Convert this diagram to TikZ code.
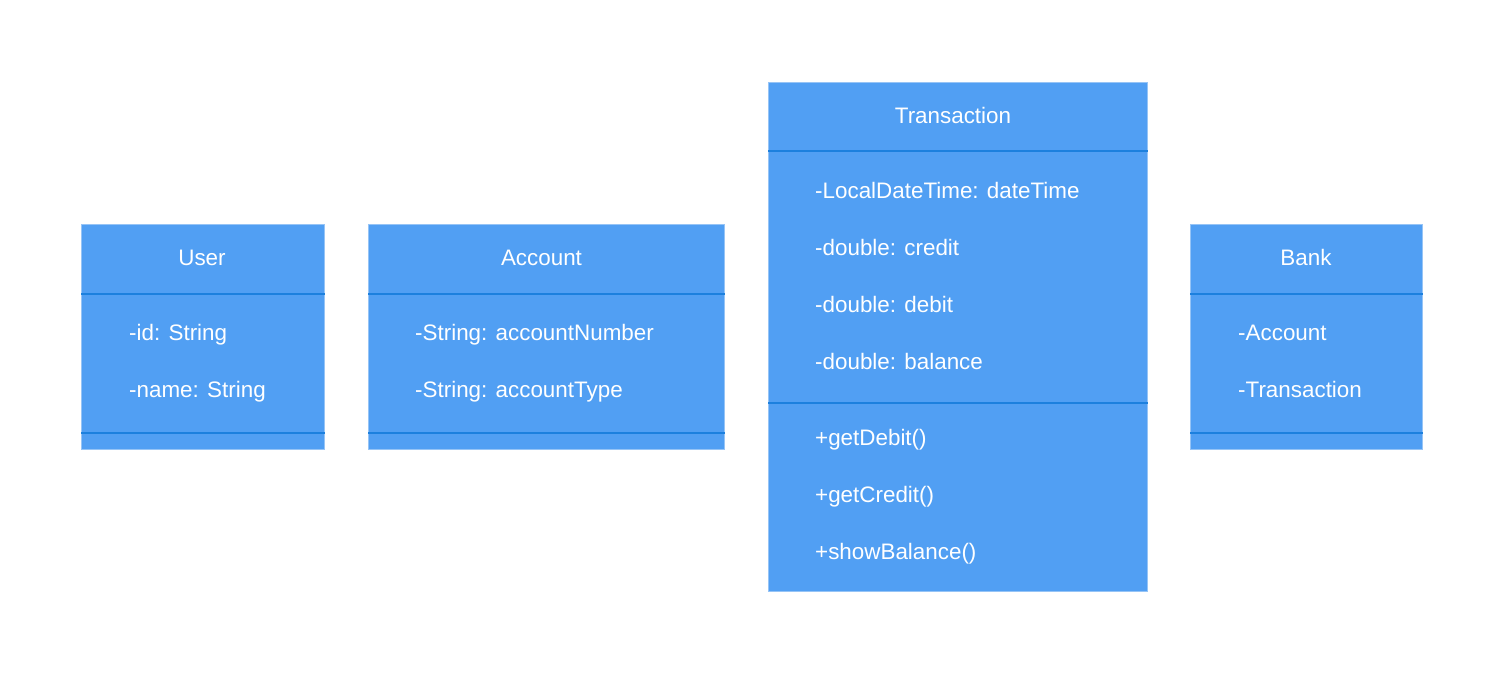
\documentclass[tikz,border=0pt]{standalone}
\usepackage{fontspec}
\setmainfont{Liberation Sans}
\definecolor{boxfill}{RGB}{81,159,243}
\definecolor{sepcol}{RGB}{28,128,222}
\definecolor{edgecol}{RGB}{150,196,246}
\tikzset{
  classbox/.style={draw=edgecol, line width=1pt, fill=boxfill, anchor=north west, inner sep=0pt},
  sepline/.style={draw=sepcol, line width=1.6pt},
  member/.style={anchor=base west, inner sep=0pt, text=white, font=\fontsize{22.4}{26}\selectfont},
  title/.style={anchor=base, inner sep=0pt, text=white, font=\fontsize{22.4}{26}\selectfont}
}
\begin{document}
\begin{tikzpicture}[x=1pt,y=-1pt]
\useasboundingbox[fill=white] (0,0) rectangle (1504,673);
% User
\node[classbox, minimum width=243pt, minimum height=225pt] (user) at (81,224) {};
\draw[sepline] ([yshift=-70pt]user.north west) -- ([yshift=-70pt]user.north east);
\draw[sepline] ([yshift=17pt]user.south west) -- ([yshift=17pt]user.south east);
\node[title] (usert) at (202,265.5) {User};
\node[member] (user1) at (129,340.5) {-id: String};
\node[member] (user2) at (129,397.5) {-name: String};
% Account
\node[classbox, minimum width=356pt, minimum height=225pt] (acc) at (368,224) {};
\draw[sepline] ([yshift=-70pt]acc.north west) -- ([yshift=-70pt]acc.north east);
\draw[sepline] ([yshift=17pt]acc.south west) -- ([yshift=17pt]acc.south east);
\node[title] (acct) at (541.5,265.5) {Account};
\node[member] (acc1) at (415,340.5) {-String: accountNumber};
\node[member] (acc2) at (415,397.5) {-String: accountType};
% Transaction
\node[classbox, minimum width=379pt, minimum height=509pt] (tr) at (768,82) {};
\draw[sepline] ([yshift=-69pt]tr.north west) -- ([yshift=-69pt]tr.north east);
\draw[sepline] ([yshift=-321pt]tr.north west) -- ([yshift=-321pt]tr.north east);
\node[title] (trt) at (953,123.5) {Transaction};
\node[member] (tr1) at (815,198.5) {-LocalDateTime: dateTime};
\node[member] (tr2) at (815,255.5) {-double: credit};
\node[member] (tr3) at (815,312.5) {-double: debit};
\node[member] (tr4) at (815,369.5) {-double: balance};
\node[member] (tr5) at (815,445.5) {+getDebit()};
\node[member] (tr6) at (815,502.5) {+getCredit()};
\node[member] (tr7) at (815,559.5) {+showBalance()};
% Bank
\node[classbox, minimum width=232pt, minimum height=225pt] (bank) at (1190,224) {};
\draw[sepline] ([yshift=-70pt]bank.north west) -- ([yshift=-70pt]bank.north east);
\draw[sepline] ([yshift=17pt]bank.south west) -- ([yshift=17pt]bank.south east);
\node[title] (bankt) at (1306,265.5) {Bank};
\node[member] (bank1) at (1238,340.5) {-Account};
\node[member] (bank2) at (1238,397.5) {-Transaction};
\end{tikzpicture}
\end{document}
